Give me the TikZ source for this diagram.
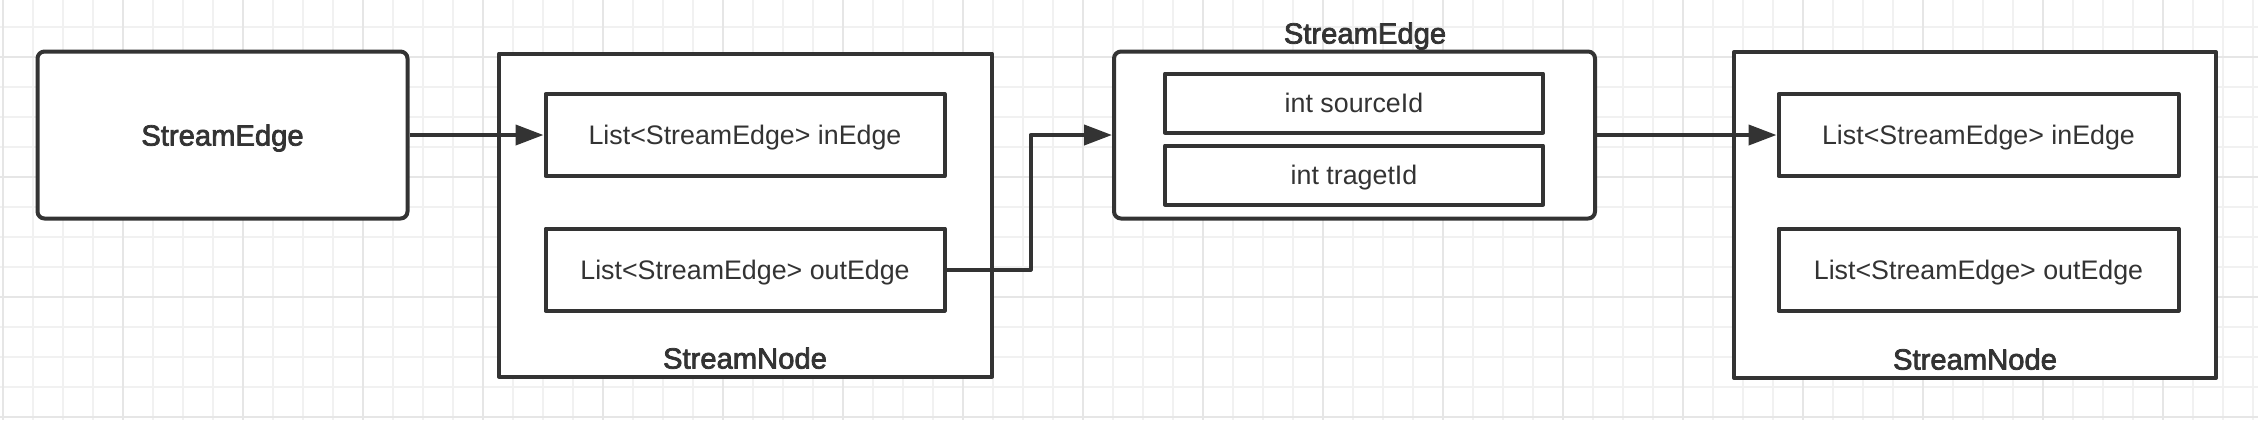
\documentclass[tikz,border=0pt]{standalone}
\usepackage{fontspec}
\setmainfont{Liberation Sans}
\newfontfamily\titlefont[FakeBold=2.5]{Liberation Sans}
\usetikzlibrary{arrows.meta}
\definecolor{ink}{HTML}{333333}
\definecolor{gridminor}{HTML}{F1F1F1}
\definecolor{gridmajor}{HTML}{E6E6E6}

\begin{document}
\begin{tikzpicture}[x=0.5pt, y=-0.5pt, line join=round,
		box/.style={draw=ink, line width=2pt, fill=white, inner sep=0pt, text=ink, text depth=0pt},
		roundbox/.style={box, rounded corners=3.5pt},
		field/.style={box, minimum width=#1, minimum height=41pt, font=\fontsize{13.4}{16}\selectfont},
		idfield/.style={box, minimum width=189pt, minimum height=29.5pt, font=\fontsize{13.4}{16}\selectfont},
		title/.style={text=ink, inner sep=0pt, text depth=0pt, font=\titlefont\fontsize{14.6}{17}\selectfont},
		arr/.style={draw=ink, line width=2pt, -{Triangle[length=14pt, width=10pt]}}]
	\useasboundingbox[fill=white] (0,0) rectangle (2258,420);
	% background grid
	\foreach \gx in {3,33,...,2253} \draw[gridminor, line width=1pt] (\gx,0) -- (\gx,420);
	\foreach \gy in {27,57,...,417} \draw[gridminor, line width=1pt] (0,\gy) -- (2258,\gy);
	\foreach \gx in {3,123,...,2253} \draw[gridmajor, line width=1pt] (\gx,0) -- (\gx,420);
	\foreach \gy in {57,177,...,417} \draw[gridmajor, line width=1pt] (0,\gy) -- (2258,\gy);

	% left edge
	\node[roundbox, minimum width=185pt, minimum height=83.5pt, title] (se1) at (222.5,135) {StreamEdge};

	% first stream node
	\node[box, minimum width=246.5pt, minimum height=161.5pt] (sn1) at (745.5,215) {};
	\node[field=199.5pt] (in1) at (745,135) {List<StreamEdge> inEdge};
	\node[field=199.5pt] (out1) at (745,269.5) {List<StreamEdge> outEdge};
	\node[title] (sn1l) at (745,358) {StreamNode};

	% middle edge
	\node[roundbox, minimum width=240.5pt, minimum height=83.5pt] (se2) at (1354.5,135) {};
	\node[title] (se2l) at (1365,33) {StreamEdge};
	\node[idfield] (src) at (1354,103) {int sourceId};
	\node[idfield] (tgt) at (1354,175) {int tragetId};

	% second stream node
	\node[box, minimum width=241pt, minimum height=163pt] (sn2) at (1975,215) {};
	\node[field=200pt] (in2) at (1978.5,135) {List<StreamEdge> inEdge};
	\node[field=200pt] (out2) at (1978.5,269.5) {List<StreamEdge> outEdge};
	\node[title] (sn2l) at (1975,359) {StreamNode};

	% connectors
	\draw[arr] (se1) -- (in1);
	\draw[arr] (out1.east) -- ++(84,0) |- (se2.west);
	\draw[arr] (se2) -- (in2);
\end{tikzpicture}
\end{document}
